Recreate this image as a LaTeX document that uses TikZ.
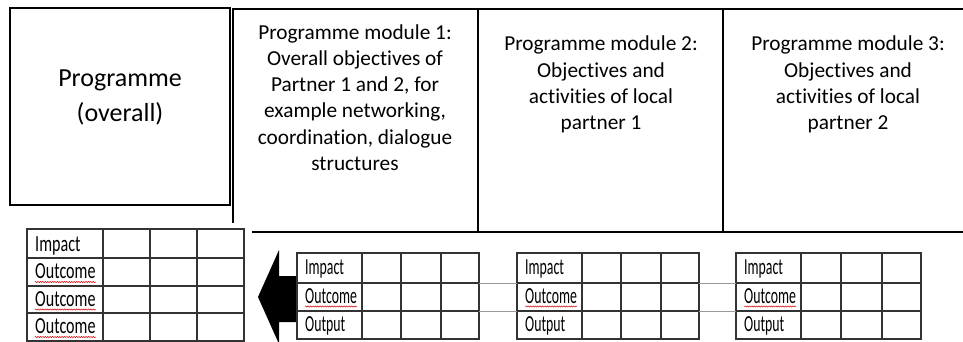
\documentclass[tikz,border=0pt]{standalone}
\usepackage{fontspec}
\setmainfont{Carlito}[Ligatures=NoCommon]
\newfontfamily\leftcellfont[FakeStretch=0.70,Ligatures=NoCommon]{Carlito}
\newfontfamily\midcellfont[FakeStretch=0.60,Ligatures=NoCommon]{Carlito}
\usetikzlibrary{decorations.pathmorphing}
\begin{document}
\begin{tikzpicture}[x=1pt,y=-1pt,
  bigline/.style={line width=2.3pt, draw=black},
  tbl/.style={line width=1.3pt, draw=black!80},
  link/.style={line width=0.9pt, draw=black!40},
  toptext/.style={align=center, inner sep=0pt, font=\fontsize{21.3}{26.3}\selectfont},
  progtext/.style={align=center, inner sep=0pt, font=\fontsize{26}{35}\selectfont},
  lcell/.style={anchor=base west, inner sep=0pt, font=\leftcellfont\fontsize{23}{24}\selectfont},
  mcell/.style={anchor=base west, inner sep=0pt, font=\midcellfont\fontsize{23}{24}\selectfont},
  spell/.style={draw=red!85!black, line width=0.5pt, decorate, decoration={snake, amplitude=0.6pt, segment length=2.4pt}}]
\useasboundingbox (0,0) rectangle (963,342);

% top frame
\node[bigline, draw, minimum width=220pt, minimum height=197pt, inner sep=0pt] (progbox) at (120,106.5) {};
\node[progtext] (prog) at (120,97) {Programme\\(overall)};
\coordinate (m1tl) at (233,9);
\coordinate (m1bl) at (233,223);
\coordinate (topr) at (963,9);
\coordinate (m2t) at (478,9);
\coordinate (m2b) at (478,232);
\coordinate (m3t) at (723,9);
\coordinate (m3b) at (723,232);
\coordinate (botl) at (252,232);
\coordinate (botr) at (963,232);
\draw[bigline] (m1bl) -- (m1tl) -- (topr);
\draw[bigline] (m2t) -- (m2b);
\draw[bigline] (m3t) -- (m3b);
\draw[bigline] (botl) -- (botr);

\node[toptext] (mod1) at (355,97.5) {Programme module 1:\\Overall objectives of\\Partner 1 and 2, for\\example networking,\\coordination, dialogue\\structures};
\node[toptext] (mod2) at (601,84.5) {Programme module 2:\\Objectives and\\activities of local\\partner 1};
\node[toptext] (mod3) at (848,84.5) {Programme module 3:\\Objectives and\\activities of local\\partner 2};

% left table
\draw[tbl] (27,229) rectangle (244,341);
\foreach \yy in {258,286,313} \draw[tbl] (27,\yy) -- (244,\yy);
\foreach \xx in {103,150,197} \draw[tbl] (\xx,229) -- (\xx,341);
\node[lcell] (limp) at (35,251) {Impact};
\node[lcell] (lout1) at (35,278.5) {Outcome};
\node[lcell] (lout2) at (35,306) {Outcome};
\node[lcell] (lout3) at (35,333.5) {Outcome};
\foreach \n in {lout1,lout2,lout3}
  \draw[spell] ([yshift=-3.5pt]\n.base west) -- ([yshift=-3.5pt]\n.base east);

% arrow
\fill[black] (297,276) -- (279,276) -- (279,250) -- (258,297) -- (279,344) -- (279,322) -- (297,322) -- cycle;

% module tables
\foreach \x/\a/\b/\c/\e/\k in {297/362/401/441/479/1, 517/582/621/661/699/2, 736/801/841/882/921/3}{
  \draw[tbl] (\x,253) rectangle (\e,339);
  \foreach \yy in {283,311} \draw[tbl] (\x,\yy) -- (\e,\yy);
  \foreach \xx in {\a,\b,\c} \draw[tbl] (\xx,253) -- (\xx,339);
  \coordinate (t\k l1) at (\x,283);
  \coordinate (t\k l2) at (\x,311);
  \coordinate (t\k r1) at (\e,283);
  \coordinate (t\k r2) at (\e,311);
  \node[mcell] (imp\k) at (\x+8,274.5) {Impact};
  \node[mcell] (out\k) at (\x+8,303) {Outcome};
  \node[mcell] (op\k) at (\x+8,331) {Output};
  \draw[spell] ([yshift=-3.5pt]out\k.base west) -- ([yshift=-3.5pt]out\k.base east);
}
\draw[link] (t1r1) -- (t2l1);
\draw[link] (t1r2) -- (t2l2);
\draw[link] (t2r1) -- (t3l1);
\draw[link] (t2r2) -- (t3l2);
\end{tikzpicture}
\end{document}
